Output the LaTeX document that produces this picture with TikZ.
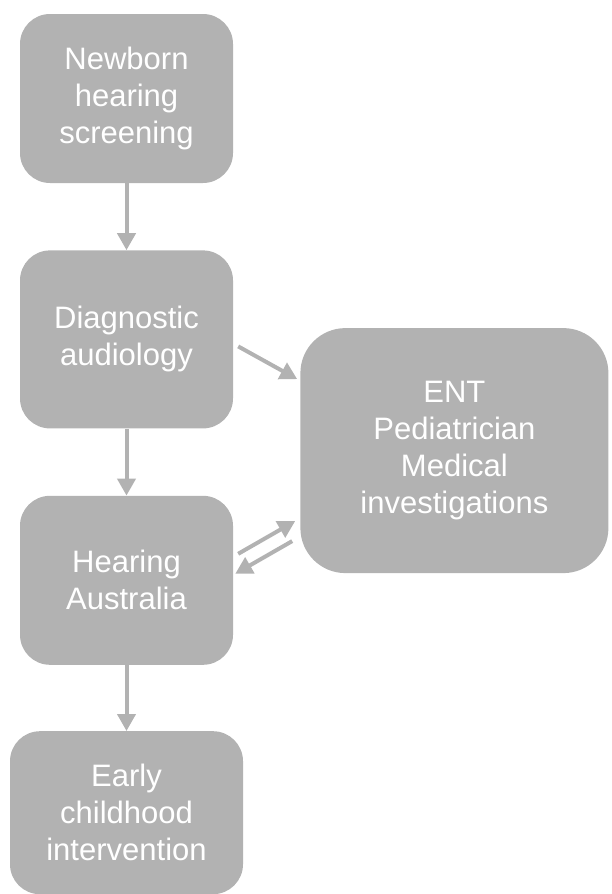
\documentclass[tikz,border=0pt]{standalone}
\usepackage{fontspec}
\setmainfont{Liberation Sans}
\usepackage{xcolor}
\usetikzlibrary{positioning}
\usetikzlibrary{arrows.meta}
\definecolor{boxgray}{RGB}{178,178,178}
\tikzset {
  node distance={67pt},
  % grey boxes of the pathway
  stage/.style = {fill=boxgray, text=white, rounded corners=30pt, align=center,
    inner sep=0pt, minimum width=213pt, minimum height=169pt,
    font=\fontsize{31}{37}\selectfont},
  % the big box on the right
  medical/.style = {stage, rounded corners=45pt, minimum width=308pt, minimum height=245pt},
  % connectors between boxes
  flow/.style={boxgray, line width=4pt, -{Triangle[length=17pt, width=18pt]}},
}

\begin{document}
\begin{tikzpicture}
        \useasboundingbox (0,0) rectangle (611pt,-894pt);
        \node[stage] (nhs) at (126.5pt,-98.5pt) {Newborn\\hearing\\screening};
        \node[stage, minimum height=178pt] (diag) [below=of nhs] {Diagnostic\\audiology};
        \node[stage] (ha) [below=of diag] {Hearing\\Australia};
        \node[stage, minimum width=233pt, minimum height=163pt] (eci) [below=66pt of ha] {Early\\childhood\\intervention};
        \node[medical] (ent) [right=of diag.south east, yshift=-22pt] {ENT\\Pediatrician\\Medical\\investigations};

        \draw [flow] (nhs) -- (diag);
        \draw [flow] (diag) -- (ha);
        \draw [flow] (ha) -- (eci);
        \draw [flow] ([shift={(5pt,-7pt)}]diag.east) -- ([shift={(-3pt,71.5pt)}]ent.west);
        \draw [flow] ([shift={(5pt,26.5pt)}]ha.east) -- ([shift={(-5pt,-70.5pt)}]ent.west);
        \draw [flow] ([shift={(-8pt,-90.5pt)}]ent.west) -- ([shift={(2pt,6.5pt)}]ha.east);
      \end{tikzpicture}
\end{document}
